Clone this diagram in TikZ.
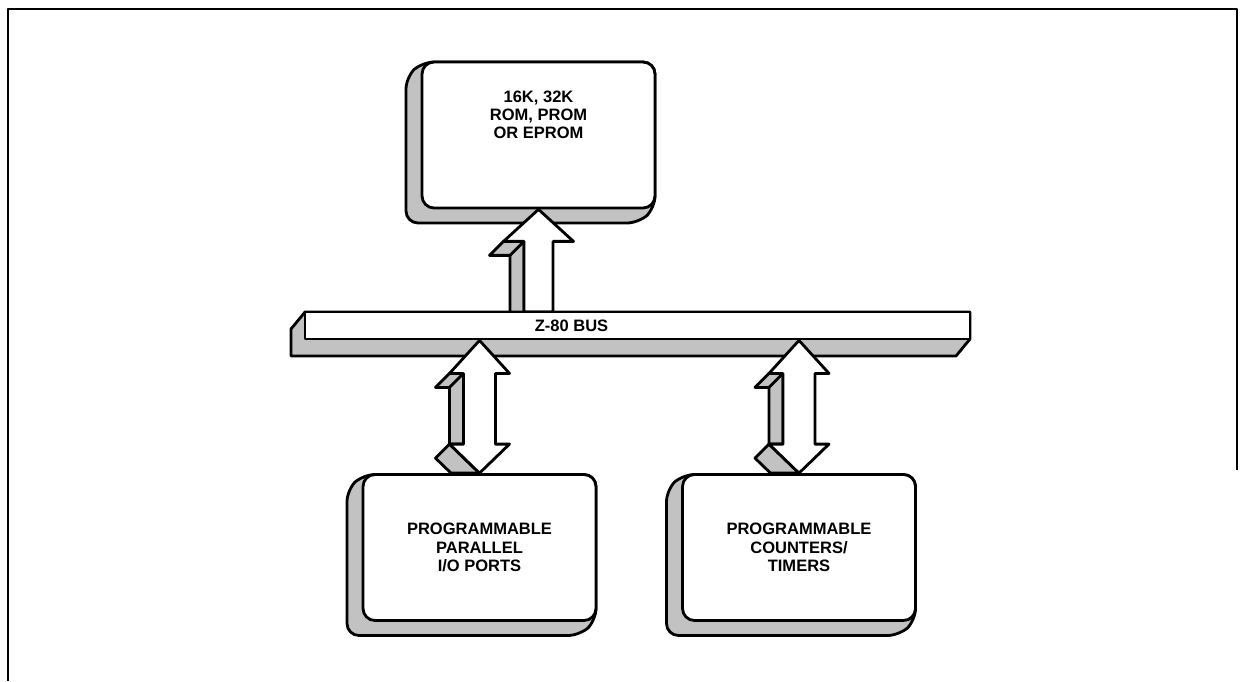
\documentclass[tikz,border=0pt]{standalone}
\usepackage{fontspec}
\setmainfont{Liberation Sans}
\usetikzlibrary{calc}

\begin{document}
\begin{tikzpicture}[x=0.02cm,y=-0.02cm,line join=round,
  lbl/.style={font=\bfseries\fontsize{9.4}{10.4}\selectfont,align=center},
  face/.style={lbl,draw,line width=1.6pt,fill=white,rounded corners=0.24cm,
    minimum width=4.66cm,minimum height=2.92cm},
  side/.style={draw,line width=1.6pt,fill=black!24},
  flat/.style={draw,line width=1.6pt,fill=white}]
  \useasboundingbox (0,0) rectangle (1241,681);
  \draw[line width=1.6pt] (1237,470) -- (1237,9) -- (8,9) -- (8,681);

  % memory
  \draw[side,rounded corners=0.24cm] (422,62) -- (655,62) -- (655,208) -- (639,223)
    -- (406,223) -- (406,77) -- cycle;
  \node[face] (rom) at (538.5,135) {};
  \node[lbl] (romlbl) at ($(rom)+(0,-20)$) {16K, 32K\\ROM, PROM\\OR EPROM};

  % bus
  \coordinate (ut) at (rom.south);
  \coordinate (ub) at (rom.south |- 0,312);
  \draw[side] ($(ut)+(-35,32)$) -- ($(ut)+(-14.5,32)$) -- ($(ub)+(-14.5,10)$)
    -- ($(ub)+(-28.5,10)$) -- ($(ut)+(-28.5,46)$) -- ($(ut)+(-49,46)$) -- cycle;
  \draw[line width=1.6pt] ($(ut)+(-14.5,32)$) -- ($(ut)+(-28.5,46)$);
  \draw[flat] (ut) -- ++(35,32) -- ++(-20.5,0) -- ($(ub)+(14.5,0)$)
    -- ($(ub)+(-14.5,0)$) -- ($(ut)+(-14.5,32)$) -- ++(-20.5,0) -- cycle;

  \draw[side] (305,312) -- (970,312) -- (970,339) -- (956,356) -- (291,356)
    -- (291,329) -- cycle;
  \node[flat,minimum width=13.3cm,minimum height=0.54cm,inner sep=0pt] (bus)
    at (637.5,325.5) {};
  \node[lbl] (buslbl) at ($(bus)+(-66,0)$) {Z-80 BUS};

  % peripherals
  \foreach \n/\cx/\t in {pio/479.5/{PROGRAMMABLE\\PARALLEL\\I/O PORTS},
                         ctc/799/{PROGRAMMABLE\\COUNTERS/\\TIMERS}}{
    \draw[side,rounded corners=0.24cm] (\cx-116.5,474.5) -- (\cx+116.5,474.5)
      -- (\cx+116.5,620.5) -- (\cx+100.5,635.5) -- (\cx-132.5,635.5)
      -- (\cx-132.5,489.5) -- cycle;
    \node[face] (\n) at (\cx,547.5) {\t};
  }

  \foreach \n in {pio,ctc}{
    \coordinate (tt) at (\n.north |- bus.south);
    \coordinate (bt) at (\n.north);
    \draw[side] ($(tt)+(-30,33)$) -- ($(tt)+(-16,33)$) -- ($(bt)+(-16,-29)$)
      -- ($(bt)+(-30,-29)$) -- ($(tt)+(-30,47)$) -- ($(tt)+(-44,47)$) -- cycle;
    \draw[line width=1.6pt] ($(tt)+(-16,33)$) -- ($(tt)+(-30,47)$);
    \draw[side] ($(bt)+(-30,-29)$) -- (bt) -- ($(bt)+(-28.5,0)$)
      -- ($(bt)+(-44,-15)$) -- cycle;
    \draw[flat] (tt) -- ++(30,33) -- ++(-14,0) -- ($(bt)+(16,-29)$) -- ++(14,0)
      -- (bt) -- ++(-30,-29) -- ++(14,0) -- ($(tt)+(-16,33)$) -- ++(-14,0) -- cycle;
  }
\end{tikzpicture}
\end{document}
